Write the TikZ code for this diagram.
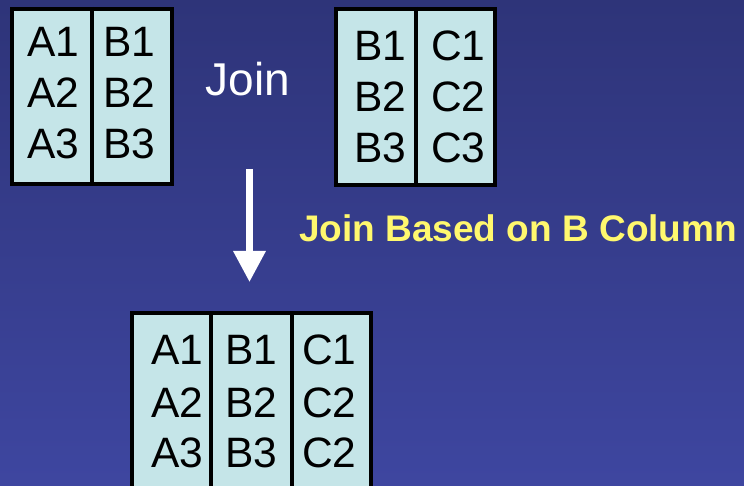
\documentclass[tikz,border=0pt]{standalone}
\usepackage{fontspec}
\setmainfont{Liberation Sans}
\usetikzlibrary{arrows.meta,calc}
\definecolor{bgtop}{RGB}{46,52,121}
\definecolor{bgbot}{RGB}{62,70,160}
\definecolor{cellfill}{RGB}{197,229,232}
\definecolor{labelyellow}{RGB}{255,248,110}

\begin{document}
\begin{tikzpicture}[x=1pt,y=-1pt,
  tablebox/.style={draw=black,line width=4pt,fill=cellfill,inner sep=0pt},
  divider/.style={draw=black,line width=4pt},
  cell/.style={anchor=base west,inner sep=0pt,text=black,font=\fontsize{42.5}{50}\selectfont},
  flow/.style={draw=white,line width=6.5pt,-{Triangle[width=31pt,length=31pt]}}]

% slide background
\clip (0,0) rectangle (744,486);
\shade[top color=bgtop,bottom color=bgbot] (0,0) rectangle (744,486);

% first relation (A, B)
\node[tablebox,minimum width=160pt,minimum height=175pt] (t1) at (92,96.5) {};
\draw[divider] (t1.north) -- (t1.south);
\node[cell] (a1) at (27,57)  {A1};
\node[cell] (a2) at (27,108) {A2};
\node[cell] (a3) at (27,159) {A3};
\node[cell] (b1) at (103,57)  {B1};
\node[cell] (b2) at (103,108) {B2};
\node[cell] (b3) at (103,159) {B3};

% operator
\node[anchor=base west,inner sep=0pt,text=white,font=\fontsize{46}{55}\selectfont] (join) at (205.5,96) {Join};

% second relation (B, C)
\node[tablebox,minimum width=159pt,minimum height=176pt] (t2) at (415.5,97) {};
\draw[divider] (t2.north) -- (t2.south);
\node[cell] (bb1) at (354,61)  {B1};
\node[cell] (bb2) at (354,112) {B2};
\node[cell] (bb3) at (354,163) {B3};
\node[cell] (c1) at (431,61)  {C1};
\node[cell] (c2) at (431,112) {C2};
\node[cell] (c3) at (431,163) {C3};

% join step
\coordinate (arrtop) at (249.5,169);
\coordinate (arrtip) at (249.5,282);
\draw[flow] (arrtop) -- (arrtip);
\node[anchor=base west,inner sep=0pt,text=labelyellow,font=\bfseries\fontsize{37}{44}\selectfont] (rule) at (299,242) {Join Based on B Column};

% joined relation (A, B, C)
\node[tablebox,minimum width=239pt,minimum height=207pt] (t3) at (251.5,416.5) {};
\draw[divider] ($(t3.north west)!1/3!(t3.north east)$) -- ($(t3.south west)!1/3!(t3.south east)$);
\draw[divider] ($(t3.north west)!2/3!(t3.north east)$) -- ($(t3.south west)!2/3!(t3.south east)$);
\node[cell] (ra1) at (151,364) {A1};
\node[cell] (ra2) at (151,417) {A2};
\node[cell] (ra3) at (151,467) {A3};
\node[cell] (rb1) at (225,364) {B1};
\node[cell] (rb2) at (225,417) {B2};
\node[cell] (rb3) at (225,467) {B3};
\node[cell] (rc1) at (302,364) {C1};
\node[cell] (rc2) at (302,417) {C2};
\node[cell] (rc3) at (302,467) {C2};
\end{tikzpicture}
\end{document}
